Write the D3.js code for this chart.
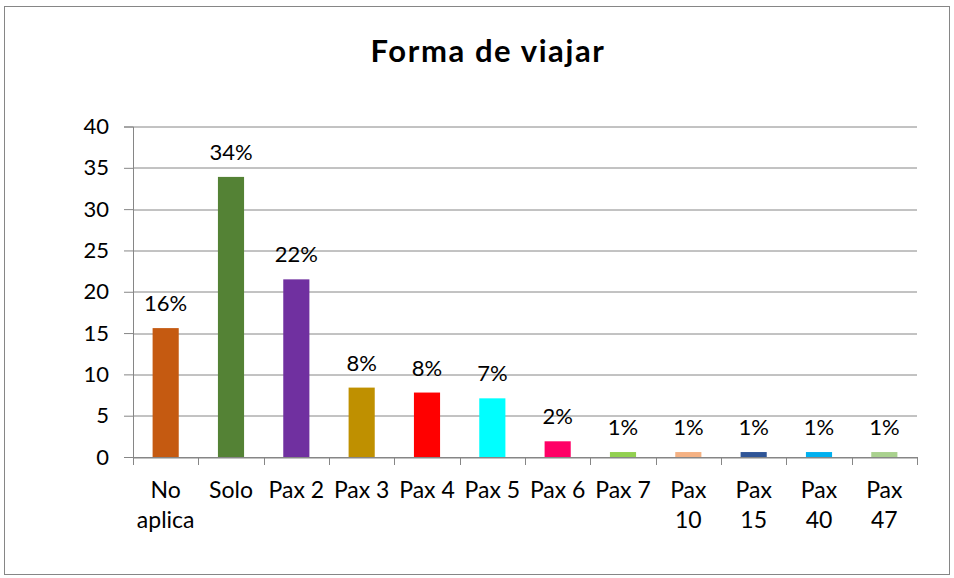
<!DOCTYPE html>
<html>
<head>
<meta charset="utf-8">
<script src="https://cdn.jsdelivr.net/npm/d3@7"></script>
<style>
  body { margin: 0; background: #fff; }
  text { font-family: Lato, "Open Sans", sans-serif; fill: #000; }
</style>
</head>
<body>
<div id="chart"></div>
<script>
// categories and values
const categories = ['No aplica', 'Solo', 'Pax 2', 'Pax 3', 'Pax 4', 'Pax 5', 'Pax 6', 'Pax 7', 'Pax 10', 'Pax 15', 'Pax 40', 'Pax 47']
const values = [15.6, 33.9, 21.5, 8.4, 7.8, 7.1, 1.9, 0.6, 0.6, 0.6, 0.6, 0.6]
const labels = ['16%', '34%', '22%', '8%', '8%', '7%', '2%', '1%', '1%', '1%', '1%', '1%']
const colors = ['#C55A11', '#548235', '#7030A0', '#BF9000', '#FF0000', '#00FFFF', '#FF0066', '#92D050', '#F4B183', '#2F5597', '#00B0F0', '#A9D18E']
const yTicks = [0, 5, 10, 15, 20, 25, 30, 35, 40]

const width = 954
const height = 578
const margin = { top: 126.5, right: 37, bottom: 121, left: 133 }
const innerW = width - margin.left - margin.right
const innerH = height - margin.top - margin.bottom

const svg = d3.select('#chart').append('svg')
  .attr('width', width)
  .attr('height', height)

// chart border
svg.append('rect')
  .attr('x', 4.5).attr('y', 6.5)
  .attr('width', 945).attr('height', 568)
  .attr('fill', 'none')
  .attr('stroke', '#868686')

svg.append('text')
  .attr('x', 488).attr('y', 62)
  .attr('text-anchor', 'middle')
  .style('font-size', '31px')
  .style('font-weight', 'bold')
  .style('letter-spacing', '1.6px')
  .text('Forma de viajar')

const g = svg.append('g').attr('transform', `translate(${margin.left},${margin.top})`)

const x = d3.scaleBand().domain(categories).range([0, innerW]).paddingInner(0.6).paddingOuter(0.3)
const xEdges = d3.scaleLinear().domain([0, categories.length]).range([0, innerW])
const y = d3.scaleLinear().domain([0, 40]).range([innerH, 0])

// gridlines
g.append('g')
  .selectAll('line')
  .data(yTicks)
  .join('line')
  .attr('x1', 0).attr('x2', innerW)
  .attr('y1', (d) => Math.round(y(d)) + 0.5)
  .attr('y2', (d) => Math.round(y(d)) + 0.5)
  .attr('stroke', '#868686')
  .attr('stroke-width', 1)

// y axis
const yAxis = g.append('g')
  .call(d3.axisLeft(y).tickValues(yTicks).tickSize(9).tickPadding(15))
yAxis.select('.domain').attr('stroke', '#868686')
yAxis.selectAll('.tick line').attr('stroke', '#868686')
yAxis.selectAll('.tick text').style('font-size', '22px').attr('fill', '#000')

// x axis baseline and boundary ticks
g.append('line')
  .attr('x1', 0).attr('x2', innerW)
  .attr('y1', innerH + 0.5).attr('y2', innerH + 0.5)
  .attr('stroke', '#868686')
g.append('g')
  .selectAll('line')
  .data(d3.range(categories.length + 1))
  .join('line')
  .attr('x1', (d) => Math.round(xEdges(d)) + 0.5)
  .attr('x2', (d) => Math.round(xEdges(d)) + 0.5)
  .attr('y1', innerH).attr('y2', innerH + 8)
  .attr('stroke', '#868686')

// bars
g.append('g')
  .selectAll('rect')
  .data(values)
  .join('rect')
  .attr('x', (d, i) => x(categories[i]))
  .attr('width', x.bandwidth())
  .attr('y', (d) => y(d))
  .attr('height', (d) => innerH - y(d))
  .attr('fill', (d, i) => colors[i])

// data labels
g.append('g')
  .selectAll('text')
  .data(values)
  .join('text')
  .attr('x', (d, i) => x(categories[i]) + x.bandwidth() / 2)
  .attr('y', (d) => y(d) - 17)
  .attr('text-anchor', 'middle')
  .style('font-size', '22px')
  .text((d, i) => labels[i])

// category labels, wrapped on two lines where needed
const catLines = categories.map((c) => (c === 'No aplica' ? ['No', 'aplica'] : c.length > 5 ? c.split(' ') : [c]))
const catText = g.append('g')
  .selectAll('text')
  .data(catLines)
  .join('text')
  .attr('text-anchor', 'middle')
  .attr('transform', (d, i) => `translate(${x(categories[i]) + x.bandwidth() / 2},${innerH + 41})`)
  .style('font-size', '23px')
catText.selectAll('tspan')
  .data((d) => d)
  .join('tspan')
  .attr('x', 0)
  .attr('dy', (d, i) => (i === 0 ? 0 : 30))
  .text((d) => d)
</script>
</body>
</html>
